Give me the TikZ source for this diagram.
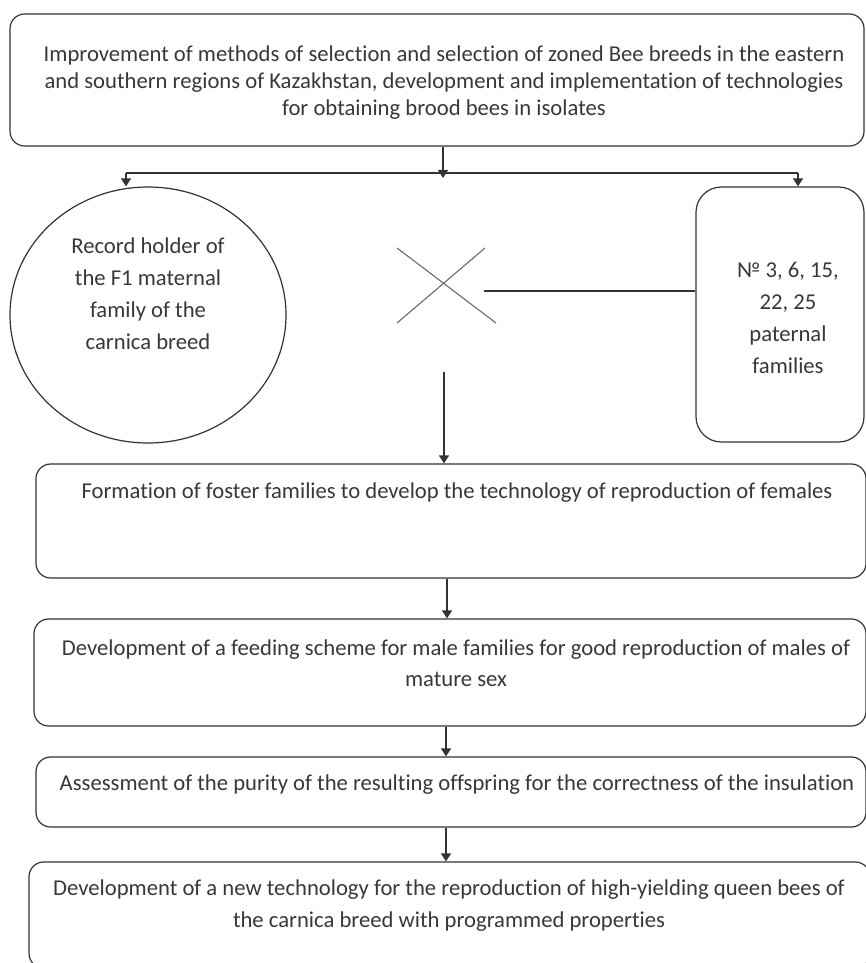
\documentclass[tikz,border=0pt]{standalone}
\usepackage{fontspec}
\setmainfont[Ligatures=NoCommon]{Carlito}
\usetikzlibrary{arrows.meta,shapes.geometric,fit}
\tikzset{
  box/.style={draw=black!80, line width=0.9pt, rounded corners=11pt, inner sep=0pt, fit={#1}},
  txt/.style={text=black!78, align=center, inner sep=0pt, font=\fontsize{17}{#1}\selectfont},
  ln/.style={draw=black!80, line width=0.9pt},
  arr/.style={ln, -{Triangle[length=6pt,width=7.5pt]}},
  crossln/.style={draw=black!60, line width=0.8pt}
}
\begin{document}
\begin{tikzpicture}[x=0.75pt,y=-0.75pt]
\path[use as bounding box] (0,0) rectangle (865,963);
% boxes
\node[box={(10,14) (864,146)}] (top) {};
\node[draw=black!80, line width=0.9pt, ellipse, minimum width=207pt, minimum height=192pt, inner sep=0pt] (mat) at (148,315) {};
\node[box={(696,187) (864,442)}, rounded corners=19pt] (pat) {};
\node[box={(36,464) (866,578)}] (b3) {};
\node[box={(34,619) (866,726)}] (b4) {};
\node[box={(36,757) (866,827)}] (b5) {};
\node[box={(29,862) (870,968)}] (b6) {};
% texts
\node[txt=20.25pt] (t0) at (444,83) {Improvement of methods of selection and selection of zoned Bee breeds in the eastern\\and southern regions of Kazakhstan, development and implementation of technologies\\for obtaining brood bees in isolates};
\node[txt=24pt] (tm) at (148,294) {Record holder of\\the F1 maternal\\family of the\\carnica breed};
\node[txt=23.8pt] (tp) at (788,318) {№ 3, 6, 15,\\22, 25\\paternal\\families};
\node[txt=23pt] (t3) at (457,493) {Formation of foster families to develop the technology of reproduction of females};
\node[txt=23.25pt] (t4) at (456,663.5) {Development of a feeding scheme for male families for good reproduction of males of\\mature sex};
\node[txt=23pt] (t5) at (457,785) {Assessment of the purity of the resulting offspring for the correctness of the insulation};
\node[txt=24pt] (t6) at (449,906) {Development of a new technology for the reproduction of high-yielding queen bees of\\the carnica breed with programmed properties};
% cross
\draw[crossln] (397,248) -- (496,323);
\draw[crossln] (485,248) -- (397,323);
% connectors
\coordinate (j) at (443,173);
\coordinate (jt) at (443,178);
\coordinate (jl) at (126,173);
\coordinate (jr) at (798,173);
\coordinate (hs) at (484,291);
\coordinate (a2) at (444,372);
\coordinate (a3) at (447,578);
\coordinate (a4) at (446,726);
\coordinate (a5) at (446,827);
\draw[arr] (top.south -| j) -- (jt);
\draw[ln] (jl) -- (jr);
\draw[arr] (jl) -- (jl |- mat.north);
\draw[arr] (jr) -- (jr |- pat.north);
\draw[ln] (hs) -- (hs -| pat.west);
\draw[arr] (a2) -- (a2 |- b3.north);
\draw[arr] (b3.south -| a3) -- (a3 |- b4.north);
\draw[arr] (b4.south -| a4) -- (a4 |- b5.north);
\draw[arr] (b5.south -| a5) -- (a5 |- b6.north);
\end{tikzpicture}
\end{document}
